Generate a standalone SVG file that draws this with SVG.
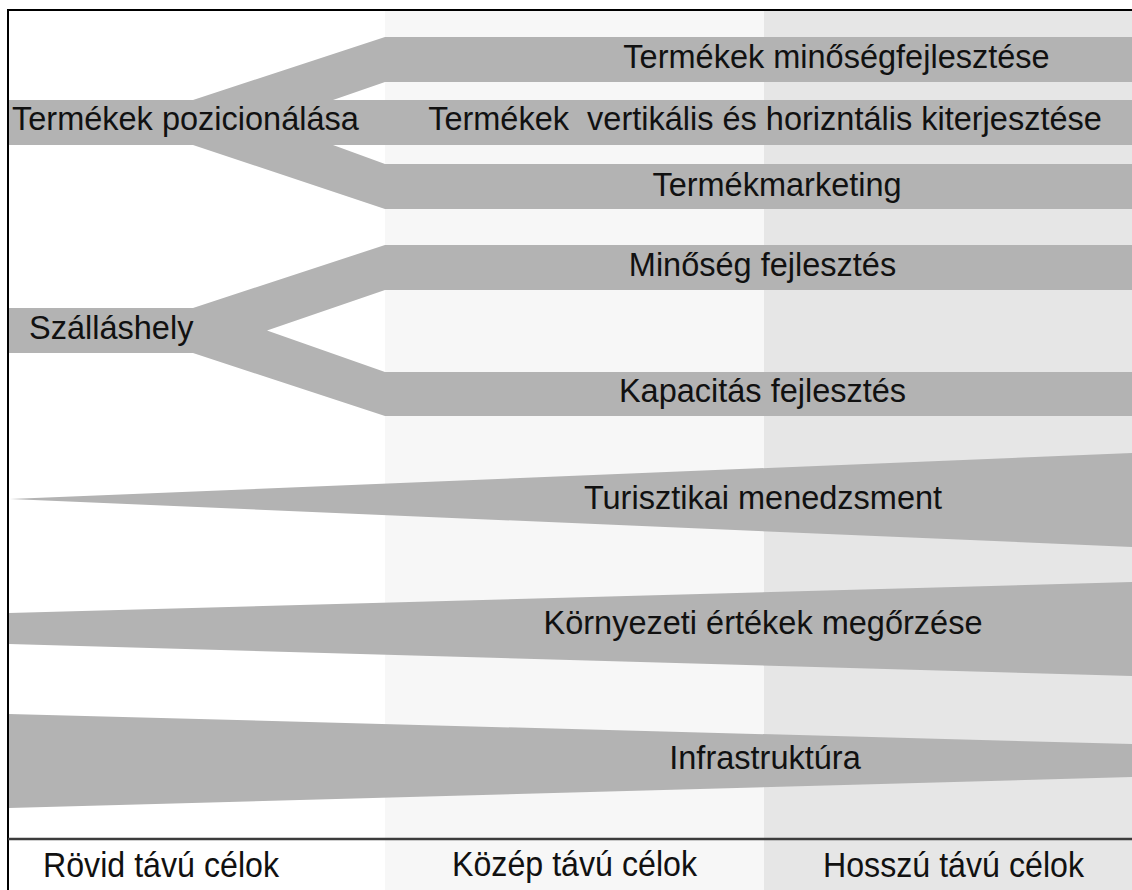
<svg xmlns="http://www.w3.org/2000/svg" width="1132" height="890" viewBox="0 0 1132 890">
<style>
.band{fill:#b3b3b3;stroke:none}
.t{font-family:"Liberation Sans",Arial,sans-serif;font-size:32.5px;fill:#111}
.m{text-anchor:middle}
.ax{font-size:35px}
.frame{stroke:#000;stroke-width:2;fill:none}
</style>
<rect x="0" y="0" width="1132" height="890" fill="#fff"/>
<g id="columns">
<rect x="9" y="10" width="376" height="880" fill="#ffffff"/>
<rect x="385" y="10" width="379" height="880" fill="#f7f7f7"/>
<rect x="764" y="10" width="368" height="880" fill="#e6e6e6"/>
</g>
<g id="connectors">
<polygon class="band" points="193,100 385,37 1132,37 1132,82 385,82 333,100"/>
<polygon class="band" points="333,145 385,164 1132,164 1132,209 385,209 193,145"/>
<polygon class="band" points="193,308 385,245 1132,245 1132,290 385,290 267,330.5 385,372 1132,372 1132,416 385,416 193,353"/>
</g>
<g id="node-pozicionalas">
<rect class="band" x="9" y="100" width="1123" height="45"/>
<text class="t" x="12" y="129.5">Termékek pozicionálása</text>
</g>
<g id="node-minosegfejlesztes">
<text class="t m" x="836.5" y="67.5">Termékek minőségfejlesztése</text>
</g>
<g id="node-kiterjesztes">
<text class="t m" x="765" y="129.5" xml:space="preserve">Termékek  vertikális és horizntális kiterjesztése</text>
</g>
<g id="node-termekmarketing">
<text class="t m" x="777" y="195.5">Termékmarketing</text>
</g>
<g id="node-szallashely">
<rect class="band" x="9" y="308" width="185" height="45"/>
<text class="t" x="29" y="338.5">Szálláshely</text>
</g>
<g id="node-minoseg">
<text class="t m" x="762.5" y="276">Minőség fejlesztés</text>
</g>
<g id="node-kapacitas">
<text class="t m" x="762.5" y="402">Kapacitás fejlesztés</text>
</g>
<g id="node-turisztikai">
<polygon class="band" points="10,499 1132,453 1132,547"/>
<text class="t m" x="763" y="508.5">Turisztikai menedzsment</text>
</g>
<g id="node-kornyezeti">
<polygon class="band" points="9,613 1132,582 1132,676 9,644"/>
<text class="t m" x="763" y="633.5">Környezeti értékek megőrzése</text>
</g>
<g id="node-infrastruktura">
<polygon class="band" points="9,714 1132,744 1132,777 9,808"/>
<text class="t m" x="765" y="768.5">Infrastruktúra</text>
</g>
<g id="frame">
<line class="frame" x1="8" y1="10" x2="1132" y2="10"/>
<line class="frame" x1="8" y1="9" x2="8" y2="890"/>
<line x1="8" y1="839" x2="1132" y2="839" stroke="#3c3c3c" stroke-width="2.5"/>
</g>
<g id="axis-labels">
<text class="t m ax" transform="translate(161,877) scale(0.92,1)">Rövid távú célok</text>
<text class="t m ax" transform="translate(574.5,876) scale(0.92,1)">Közép távú célok</text>
<text class="t m ax" transform="translate(953.5,877) scale(0.92,1)">Hosszú távú célok</text>
</g>
</svg>
